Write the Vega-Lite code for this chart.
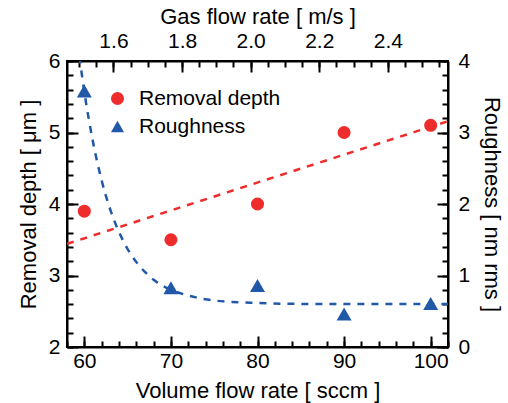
{
  "$schema": "https://vega.github.io/schema/vega-lite/v6.json",
  "width": 381,
  "height": 286,
  "autosize": {"type": "none"},
  "padding": {"left": 67, "top": 61, "right": 60, "bottom": 56},
  "background": "white",
  "view": {"stroke": "black", "strokeWidth": 2},
  "config": {
    "font": "Liberation Sans",
    "axis": {
      "labelFont": "Liberation Sans",
      "titleFont": "Liberation Sans",
      "labelFontSize": 21,
      "titleFontSize": 22,
      "titleFontWeight": "normal",
      "labelColor": "black",
      "titleColor": "black",
      "tickColor": "black",
      "domainColor": "black",
      "domainWidth": 2,
      "tickWidth": 2,
      "ticks": true,
      "grid": false
    },
    "legend": {
      "labelFont": "Liberation Sans",
      "labelFontSize": 21,
      "labelColor": "black"
    }
  },
  "datasets": {
    "measured": [
      {"flow": 60, "gas": 1.515, "depth": 3.9, "roughness": 3.58},
      {"flow": 70, "gas": 1.7675, "depth": 3.5, "roughness": 0.83},
      {"flow": 80, "gas": 2.02, "depth": 4.0, "roughness": 0.86},
      {"flow": 90, "gas": 2.2725, "depth": 5.0, "roughness": 0.46},
      {"flow": 100, "gas": 2.525, "depth": 5.1, "roughness": 0.61}
    ],
    "depthFit": [
      {"flow": 58, "depth": 3.442},
      {"flow": 102, "depth": 5.158}
    ],
    "roughFit": [
      {"flow": 59.0, "roughness": 4.45},
      {"flow": 59.5, "roughness": 4.0},
      {"flow": 60, "roughness": 3.57},
      {"flow": 61, "roughness": 2.87},
      {"flow": 62, "roughness": 2.33},
      {"flow": 63, "roughness": 1.92},
      {"flow": 64, "roughness": 1.61},
      {"flow": 65, "roughness": 1.37},
      {"flow": 66, "roughness": 1.19},
      {"flow": 67, "roughness": 1.05},
      {"flow": 68, "roughness": 0.94},
      {"flow": 70, "roughness": 0.8},
      {"flow": 72, "roughness": 0.72},
      {"flow": 75, "roughness": 0.65},
      {"flow": 80, "roughness": 0.615},
      {"flow": 85, "roughness": 0.603},
      {"flow": 90, "roughness": 0.6},
      {"flow": 102, "roughness": 0.6}
    ]
  },
  "layer": [
    {
      "data": {"name": "depthFit"},
      "mark": {"type": "line", "color": "#ee2c2c", "strokeWidth": 2.5, "strokeDash": [7, 7], "clip": true},
      "encoding": {
        "x": {"field": "flow", "type": "quantitative", "scale": {"domain": [58, 102], "nice": false, "zero": false}, "axis": null},
        "y": {"field": "depth", "type": "quantitative", "scale": {"domain": [2, 6], "nice": false, "zero": false}, "axis": null}
      }
    },
    {
      "data": {"name": "roughFit"},
      "mark": {"type": "line", "color": "#2158a8", "strokeWidth": 2.5, "strokeDash": [7, 7], "clip": true, "interpolate": "monotone"},
      "encoding": {
        "x": {"field": "flow", "type": "quantitative", "scale": {"domain": [58, 102], "nice": false, "zero": false}, "axis": null},
        "y": {"field": "roughness", "type": "quantitative", "scale": {"domain": [0, 4], "nice": false, "zero": false}, "axis": null}
      }
    },
    {
      "data": {"name": "measured"},
      "mark": {"type": "point", "filled": true, "opacity": 1, "size": 170, "strokeWidth": 0},
      "encoding": {
        "x": {
          "field": "flow", "type": "quantitative",
          "scale": {"domain": [58, 102], "nice": false, "zero": false},
          "axis": {
            "orient": "bottom",
            "title": "Volume flow rate [ sccm ]",
            "tickCount": 5,
            "format": "d",
            "tickSize": -11,
            "labelPadding": 14,
            "titlePadding": 9
          }
        },
        "y": {
          "field": "depth", "type": "quantitative",
          "scale": {"domain": [2, 6], "nice": false, "zero": false},
          "axis": {
            "orient": "left",
            "title": "Removal depth [ μm ]",
            "tickCount": 4,
            "format": "d",
            "tickSize": -11,
            "labelPadding": 18,
            "titlePadding": 8
          }
        },
        "color": {
          "datum": "Removal depth", "type": "nominal",
          "scale": {"domain": ["Removal depth", "Roughness"], "range": ["#ee2c2c", "#2158a8"]},
          "legend": {"orient": "none", "legendX": 40, "legendY": 27, "title": null, "symbolSize": 170, "rowPadding": 6, "labelOffset": 11, "symbolStrokeWidth": 0}
        },
        "shape": {
          "datum": "Removal depth", "type": "nominal",
          "scale": {"domain": ["Removal depth", "Roughness"], "range": ["circle", "triangle-up"]},
          "legend": {"orient": "none", "legendX": 40, "legendY": 27, "title": null, "symbolSize": 170, "rowPadding": 6, "labelOffset": 11, "symbolStrokeWidth": 0}
        }
      }
    },
    {
      "data": {"name": "measured"},
      "mark": {"type": "point", "filled": true, "opacity": 1, "size": 225, "strokeWidth": 0},
      "encoding": {
        "x": {
          "field": "flow", "type": "quantitative",
          "scale": {"domain": [58, 102], "nice": false, "zero": false},
          "axis": null
        },
        "y": {
          "field": "roughness", "type": "quantitative",
          "scale": {"domain": [0, 4], "nice": false, "zero": false},
          "axis": {
            "orient": "right",
            "title": "Roughness [ nm rms ]",
            "tickCount": 4,
            "format": "d",
            "tickSize": -11,
            "labelPadding": 21,
            "titlePadding": 10
          }
        },
        "color": {"datum": "Roughness", "type": "nominal"},
        "shape": {"datum": "Roughness", "type": "nominal"}
      }
    },
    {
      "data": {"name": "measured"},
      "mark": {"type": "rule", "opacity": 0},
      "encoding": {
        "x": {
          "field": "gas", "type": "quantitative",
          "scale": {"domain": [1.4645, 2.5755], "nice": false, "zero": false},
          "axis": {
            "orient": "top",
            "title": "Gas flow rate [ m/s ]",
            "tickCount": 5,
            "format": ".1f",
            "tickSize": -11,
            "labelPadding": 21,
            "titlePadding": 2
          }
        }
      }
    },
    {
      "data": {"name": "measured"},
      "mark": {"type": "rule", "opacity": 0},
      "encoding": {
        "x": {
          "field": "flow", "type": "quantitative",
          "scale": {"domain": [58, 102], "nice": false, "zero": false},
          "axis": {
            "orient": "bottom", "title": null, "labels": false, "domain": false,
            "tickCount": 22,
            "tickSize": -6
          }
        }
      }
    },
    {
      "data": {"name": "measured"},
      "mark": {"type": "rule", "opacity": 0},
      "encoding": {
        "y": {
          "field": "depth", "type": "quantitative",
          "scale": {"domain": [2, 6], "nice": false, "zero": false},
          "axis": {
            "orient": "left", "title": null, "labels": false, "domain": false,
            "tickCount": 20,
            "tickSize": -6
          }
        }
      }
    },
    {
      "data": {"name": "measured"},
      "mark": {"type": "rule", "opacity": 0},
      "encoding": {
        "y": {
          "field": "roughness", "type": "quantitative",
          "scale": {"domain": [0, 4], "nice": false, "zero": false},
          "axis": {
            "orient": "right", "title": null, "labels": false, "domain": false,
            "tickCount": 20,
            "tickSize": -6
          }
        }
      }
    },
    {
      "data": {"name": "measured"},
      "mark": {"type": "rule", "opacity": 0},
      "encoding": {
        "x": {
          "field": "gas", "type": "quantitative",
          "scale": {"domain": [1.4645, 2.5755], "nice": false, "zero": false},
          "axis": {
            "orient": "top", "title": null, "labels": false, "domain": false,
            "tickCount": 22,
            "tickSize": -6
          }
        }
      }
    }
  ],
  "resolve": {"scale": {"x": "independent", "y": "independent"}}
}
